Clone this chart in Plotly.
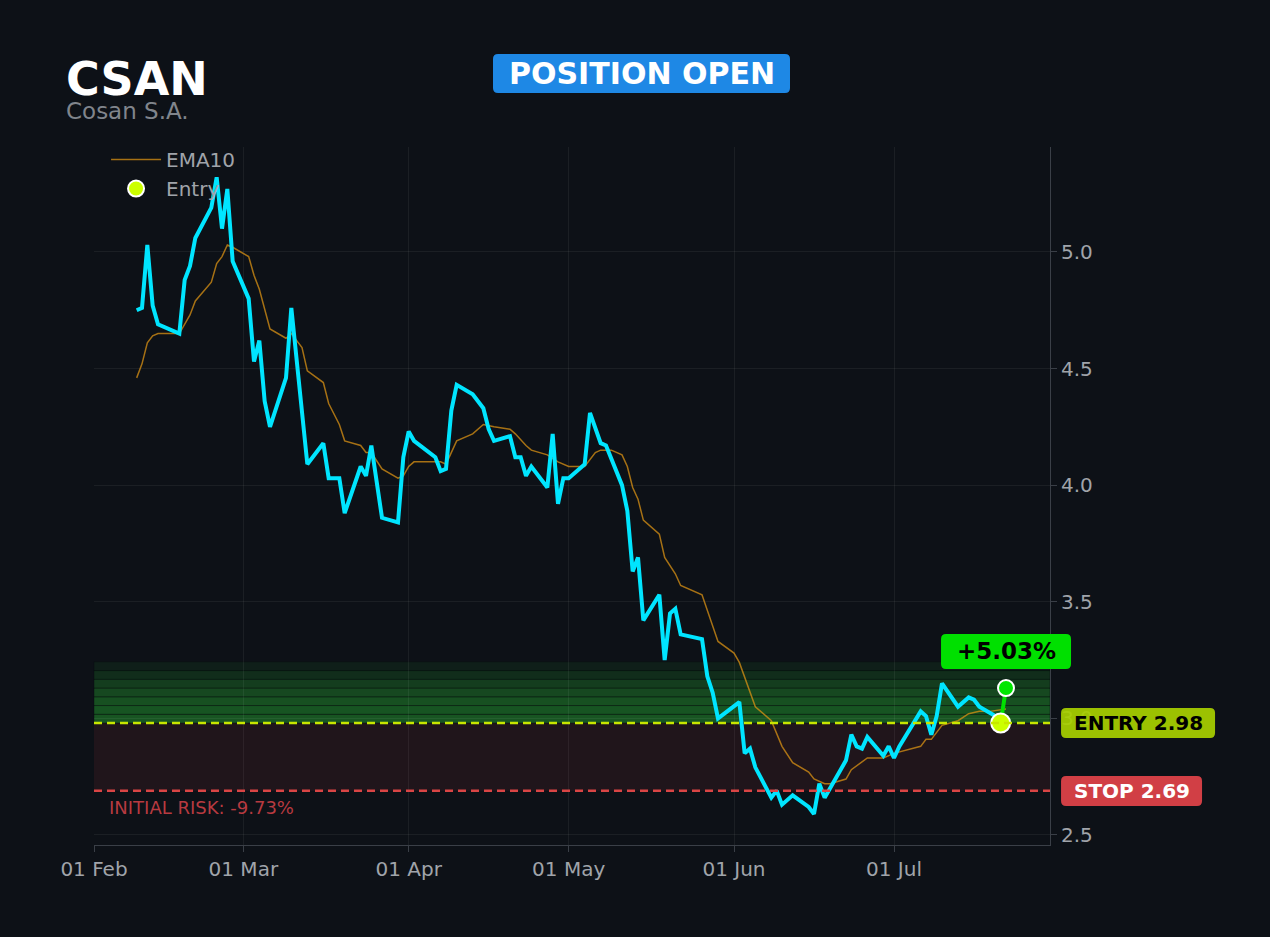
import plotly.graph_objects as go

# ---- data ----
ticker = "CSAN"
company = "Cosan S.A."

price_dates = [
    "2025-02-09", "2025-02-10", "2025-02-11", "2025-02-12", "2025-02-13", "2025-02-17", "2025-02-18",
    "2025-02-19", "2025-02-20", "2025-02-23", "2025-02-24", "2025-02-25", "2025-02-26", "2025-02-27",
    "2025-03-02", "2025-03-03", "2025-03-04", "2025-03-05", "2025-03-06", "2025-03-09", "2025-03-10",
    "2025-03-12", "2025-03-13", "2025-03-16", "2025-03-17", "2025-03-19", "2025-03-20", "2025-03-23",
    "2025-03-24", "2025-03-25", "2025-03-27", "2025-03-30", "2025-03-31",
    "2025-04-01", "2025-04-02", "2025-04-06", "2025-04-07", "2025-04-08", "2025-04-09", "2025-04-10",
    "2025-04-13", "2025-04-15", "2025-04-16", "2025-04-17", "2025-04-20", "2025-04-21", "2025-04-22",
    "2025-04-23", "2025-04-24", "2025-04-27", "2025-04-28", "2025-04-29", "2025-04-30",
    "2025-05-01", "2025-05-04", "2025-05-05", "2025-05-06", "2025-05-07", "2025-05-08", "2025-05-11",
    "2025-05-12", "2025-05-13", "2025-05-14", "2025-05-15", "2025-05-18", "2025-05-19", "2025-05-20",
    "2025-05-21", "2025-05-22", "2025-05-26", "2025-05-27", "2025-05-28", "2025-05-29",
    "2025-06-02", "2025-06-03", "2025-06-04", "2025-06-05", "2025-06-08", "2025-06-09", "2025-06-10",
    "2025-06-12", "2025-06-15", "2025-06-16", "2025-06-17", "2025-06-18", "2025-06-22", "2025-06-23",
    "2025-06-24", "2025-06-25", "2025-06-26", "2025-06-29", "2025-06-30",
    "2025-07-01", "2025-07-02", "2025-07-06", "2025-07-07", "2025-07-08", "2025-07-09", "2025-07-10",
    "2025-07-13", "2025-07-15", "2025-07-16", "2025-07-17", "2025-07-20", "2025-07-21",
]
price_close = [
    4.75, 4.76, 5.03, 4.77, 4.69, 4.65, 4.88, 4.94, 5.06, 5.19, 5.32, 5.10, 5.27, 4.96,
    4.80, 4.53, 4.62, 4.36, 4.25, 4.46, 4.76, 4.30, 4.09, 4.18, 4.03, 4.03, 3.88, 4.08,
    4.04, 4.17, 3.86, 3.84, 4.12,
    4.23, 4.19, 4.12, 4.06, 4.07, 4.32, 4.43, 4.39, 4.33, 4.24, 4.19, 4.21, 4.12, 4.12,
    4.04, 4.08, 3.99, 4.22, 3.92, 4.03,
    4.03, 4.09, 4.31, 4.25, 4.18, 4.17, 4.00, 3.89, 3.63, 3.69, 3.42, 3.53, 3.25, 3.45,
    3.47, 3.36, 3.34, 3.18, 3.11, 3.00,
    3.07, 2.85, 2.87, 2.79, 2.66, 2.69, 2.63, 2.67, 2.62, 2.59, 2.72, 2.66, 2.82, 2.93,
    2.88, 2.87, 2.92, 2.84, 2.88,
    2.83, 2.88, 3.03, 3.01, 2.93, 3.01, 3.15, 3.05, 3.09, 3.08, 3.05, 3.01, 2.98,
]

ema_dates = [
    "2025-02-09", "2025-02-10", "2025-02-11", "2025-02-12", "2025-02-13", "2025-02-17", "2025-02-19",
    "2025-02-20", "2025-02-23", "2025-02-24", "2025-02-25", "2025-02-26", "2025-02-27",
    "2025-03-02", "2025-03-03", "2025-03-04", "2025-03-06", "2025-03-09", "2025-03-10", "2025-03-12",
    "2025-03-13", "2025-03-16", "2025-03-17", "2025-03-19", "2025-03-20", "2025-03-23", "2025-03-24",
    "2025-03-25", "2025-03-27", "2025-03-30", "2025-03-31",
    "2025-04-01", "2025-04-02", "2025-04-07", "2025-04-08", "2025-04-10", "2025-04-13", "2025-04-14",
    "2025-04-15", "2025-04-17", "2025-04-20", "2025-04-21", "2025-04-23", "2025-04-24", "2025-04-27",
    "2025-04-29",
    "2025-05-01", "2025-05-04", "2025-05-06", "2025-05-07", "2025-05-09", "2025-05-11", "2025-05-12",
    "2025-05-13", "2025-05-14", "2025-05-15", "2025-05-18", "2025-05-19", "2025-05-21", "2025-05-22",
    "2025-05-26", "2025-05-29",
    "2025-06-01", "2025-06-02", "2025-06-05", "2025-06-08", "2025-06-10", "2025-06-12", "2025-06-15",
    "2025-06-16", "2025-06-18", "2025-06-19", "2025-06-22", "2025-06-23", "2025-06-26", "2025-06-29",
    "2025-07-01", "2025-07-06", "2025-07-07", "2025-07-08", "2025-07-09", "2025-07-10", "2025-07-13",
    "2025-07-15", "2025-07-17", "2025-07-19", "2025-07-22",
]
ema10 = [
    4.46, 4.52, 4.61, 4.64, 4.65, 4.65, 4.73, 4.79, 4.87, 4.95, 4.98, 5.03, 5.02,
    4.98, 4.90, 4.84, 4.67, 4.63, 4.65, 4.59, 4.49, 4.44, 4.35, 4.26, 4.19, 4.17, 4.14,
    4.14, 4.07, 4.03, 4.04,
    4.08, 4.10, 4.10, 4.09, 4.19, 4.22, 4.24, 4.26, 4.25, 4.24, 4.22, 4.17, 4.15, 4.13,
    4.10,
    4.08, 4.08, 4.14, 4.15, 4.15, 4.13, 4.08, 3.99, 3.94, 3.85, 3.79, 3.69, 3.62, 3.57,
    3.53, 3.33,
    3.28, 3.24, 3.05, 2.99, 2.88, 2.81, 2.77, 2.74, 2.72, 2.72, 2.74, 2.78, 2.83, 2.83,
    2.85, 2.88, 2.91, 2.91, 2.94, 2.97, 2.99, 3.02, 3.03, 3.03, 3.04,
]

entry_date = "2025-07-21"
entry_price = 2.98
stop_price = 2.69
current_date = "2025-07-22"
current_price = 3.13

pnl_pct = (current_price - entry_price) / entry_price * 100
risk_pct = (stop_price - entry_price) / entry_price * 100

bg = "#0d1117"
grid = "rgba(255,255,255,0.06)"
axis_col = "#3a3f47"
tick_col = "#a0a4aa"
font_family = "DejaVu Sans"


def rounded_box(x, y, w, h, color, r=5):
    # rounded rectangle in pixels, centred on a paper point
    a, b = w / 2, h / 2
    path = ("M %g,%g L %g,%g Q %g,%g %g,%g L %g,%g Q %g,%g %g,%g L %g,%g Q %g,%g %g,%g "
            "L %g,%g Q %g,%g %g,%g Z" % (
                -a + r, -b, a - r, -b, a, -b, a, -b + r,
                a, b - r, a, b, a - r, b,
                -a + r, b, -a, b, -a, b - r,
                -a, -b + r, -a, -b, -a + r, -b))
    return dict(type="path", xref="paper", yref="paper", xsizemode="pixel", ysizemode="pixel",
                xanchor=x, yanchor=y, path=path, fillcolor=color, line_width=0, layer="above")


fig = go.Figure()

fig.add_trace(go.Scatter(
    x=ema_dates, y=ema10, mode="lines", name="EMA10",
    line=dict(color="rgba(218,145,20,0.75)", width=1.5),
))
fig.add_trace(go.Scatter(
    x=price_dates, y=price_close, mode="lines", name="Close", showlegend=False,
    line=dict(color="#00e5ff", width=4),
))
fig.add_trace(go.Scatter(
    x=[entry_date, current_date], y=[entry_price, current_price], mode="lines",
    showlegend=False, line=dict(color="#00e000", width=4),
))
fig.add_trace(go.Scatter(
    x=[entry_date], y=[entry_price], mode="markers", name="Entry",
    marker=dict(color="#ccff00", size=19, line=dict(color="white", width=2)),
))
fig.add_trace(go.Scatter(
    x=[current_date], y=[current_price], mode="markers", showlegend=False,
    marker=dict(color="#00e600", size=16, line=dict(color="white", width=2)),
))

# risk zone + profit gradient
shapes = [dict(type="rect", xref="paper", x0=0, x1=1, yref="y", y0=stop_price, y1=entry_price,
               fillcolor="rgba(210,60,70,0.1)", line_width=0, layer="below")]
step = (current_price - entry_price) / 4
band_alpha = [0.42, 0.41, 0.39, 0.34, 0.27, 0.18, 0.09]
for k, alpha in enumerate(band_alpha):
    shapes.append(dict(type="rect", xref="paper", x0=0, x1=1, yref="y",
                       y0=entry_price + k * step, y1=entry_price + (k + 1) * step,
                       fillcolor="rgba(40,180,50,%.3f)" % alpha,
                       line=dict(color="rgba(8,12,16,0.4)", width=1), layer="below"))
shapes.append(dict(type="line", xref="paper", x0=0, x1=1, yref="y", y0=entry_price, y1=entry_price,
                   line=dict(color="#c8e600", width=2.5, dash="8px,5px")))
shapes.append(dict(type="line", xref="paper", x0=0, x1=1, yref="y", y0=stop_price, y1=stop_price,
                   line=dict(color="#d94545", width=2.5, dash="8px,5px")))

# badges
shapes.append(rounded_box(0.5727, 1.1053, 297, 39, "#1e88e5"))
shapes.append(rounded_box(0.954, 0.2772, 130, 35, "#00e000"))
shapes.append(rounded_box(1.0921, 0.1748, 154, 30, "rgba(168,207,0,0.93)"))
shapes.append(rounded_box(1.0853, 0.0774, 141, 30, "#d13f45"))

annotations = [
    dict(text="<b>%s</b>" % ticker, xref="paper", yref="paper", x=-0.0315, y=1.097,
         xanchor="left", yanchor="middle", showarrow=False,
         font=dict(size=46, color="white", family=font_family)),
    dict(text=company, xref="paper", yref="paper", x=-0.0315, y=1.052,
         xanchor="left", yanchor="middle", showarrow=False,
         font=dict(size=23, color="#80858c", family=font_family)),
    dict(text="<b>POSITION OPEN</b>", xref="paper", yref="paper", x=0.5727, y=1.1053,
         xanchor="center", yanchor="middle", showarrow=False,
         font=dict(size=30, color="white", family=font_family)),
    dict(text="<b>+%.2f%%</b>" % pnl_pct, x=current_date, y=current_price, yshift=37,
         xanchor="center", yanchor="middle", showarrow=False,
         font=dict(size=23, color="black", family=font_family)),
    dict(text="<b>ENTRY %.2f</b>" % entry_price, xref="paper", x=1.0921, y=entry_price,
         xanchor="center", yanchor="middle", showarrow=False,
         font=dict(size=20, color="black", family=font_family)),
    dict(text="<b>STOP %.2f</b>" % stop_price, xref="paper", x=1.0853, y=stop_price,
         xanchor="center", yanchor="middle", showarrow=False,
         font=dict(size=20, color="white", family=font_family)),
    dict(text="INITIAL RISK: %.2f%%" % risk_pct, xref="paper", x=0.0136, y=stop_price, yshift=-17,
         xanchor="left", yanchor="middle", showarrow=False,
         font=dict(size=18, color="#b83a40", family=font_family)),
]

fig.update_layout(
    width=1270, height=937,
    margin=dict(l=94, r=220, t=147, b=92),
    paper_bgcolor=bg, plot_bgcolor=bg,
    font=dict(family=font_family, color=tick_col, size=20),
    shapes=shapes, annotations=annotations,
    legend=dict(x=0.0126, y=1.01, xanchor="left", yanchor="top", bgcolor="rgba(0,0,0,0)",
                itemwidth=50, font=dict(size=20, color=tick_col)),
    xaxis=dict(range=["2025-02-01", "2025-07-30 06:00"], dtick="M1", tick0="2025-02-01",
               tickformat="%d %b", showgrid=True, gridcolor=grid, zeroline=False,
               showline=True, linecolor=axis_col, ticks="outside", ticklen=6, tickcolor=axis_col,
               tickfont=dict(size=20, color=tick_col)),
    yaxis=dict(range=[2.457, 5.45], side="right", dtick=0.5, tickformat=".1f",
               showgrid=True, gridcolor=grid, zeroline=False,
               showline=True, linecolor=axis_col, ticks="outside", ticklen=6, tickcolor=axis_col,
               tickfont=dict(size=20, color=tick_col)),
)

# page has no white frame around the figure
fig.write_html("out.html", config={"displayModeBar": False},
               post_script="document.body.style.margin='0';"
                           "document.body.style.background='%s';"
                           "document.body.style.overflow='hidden';" % bg)
